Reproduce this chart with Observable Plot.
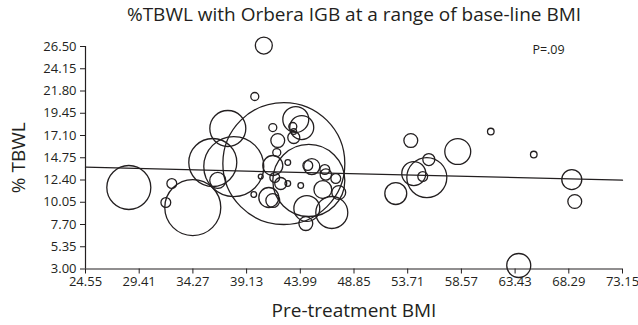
<!DOCTYPE html>
<html><head><meta charset="utf-8">
<script src="https://cdn.jsdelivr.net/npm/d3@7"></script>
<script src="https://cdn.jsdelivr.net/npm/@observablehq/plot@0.6"></script>
<style>body{margin:0;background:#fff;}</style>
</head><body><div id="chart"></div>
<script>
// Per-study data: baseline BMI, %TBWL, study size (bubble area)
const bmi = [28.47,32.36,31.82,34.26,37.43,36.07,37.97,36.52,39.87,40.69,
  42.50,44.76,43.58,44.12,43.31,43.40,43.40,41.50,41.95,41.86,
  42.86,41.50,40.41,41.68,39.78,41.14,41.50,42.86,44.03,45.03,
  44.67,46.21,46.30,47.20,46.03,47.47,44.58,46.84,44.49,42.22,
  52.63,53.99,58.24,61.23,65.12,55.62,54.26,55.44,55.07,68.56,
  68.83,63.76];
const tbwl = [11.61,12.03,10.02,9.49,17.84,14.25,13.82,12.35,21.22,26.60,
  14.14,12.35,18.79,17.94,18.05,17.52,16.89,17.94,16.57,15.30,
  14.25,13.93,12.77,12.66,10.87,10.55,10.23,12.03,11.82,13.82,
  13.93,13.51,12.98,12.56,11.39,11.08,9.39,8.97,7.80,12.03,
  10.97,16.57,15.41,17.52,15.09,14.56,13.08,12.66,12.77,12.45,
  10.13,3.37];
const patients = [121,6,6,196,81,144,225,16,4,18,
  930,324,42,36,4,2,9,4,12,4,
  2,25,1.5,6,2,25,12,2,2,16,
  6,6,8,6,20,12,42,64,12,9,
  30,12,42,2.7,2.7,9,36,100,6,25,
  12,36];
const xTicks = [24.55,29.41,34.27,39.13,43.99,48.85,53.71,58.57,63.43,68.29,73.15];
const yTicks = [3.00,5.35,7.70,10.05,12.40,14.75,17.10,19.45,21.80,24.15,26.50];
const fitBmi = [24.55,73.15];
const fitTbwl = [13.75,12.38];
const title = "%TBWL with Orbera IGB at a range of base-line BMI";
const xLabel = "Pre-treatment BMI";
const yLabel = "% TBWL";
const pLabel = "P=.09";

const data = bmi.map((x,i)=>({bmi:x,tbwl:tbwl[i],n:patients[i]}));
const fit = fitBmi.map((x,i)=>({bmi:x,tbwl:fitTbwl[i]}));
const ink = "#231f20";
const fmt = d3.format(".2f");
const font = "'Open Sans', sans-serif";

const plot = Plot.plot({
  width:638, height:325,
  marginLeft:85, marginRight:16, marginTop:46, marginBottom:56.5,
  x:{domain:[24.55,73.15]},
  y:{domain:[3,26.5]},
  r:{type:"sqrt", domain:[0,1000], range:[0,2*Math.sqrt(1000)]},
  style:{fontFamily:font, fontSize:"13px", color:ink, background:"#fff"},
  marks:[
    Plot.axisX({ticks:xTicks, tickFormat:fmt, tickSize:5, tickPadding:3, label:null, fontSize:13, stroke:ink}),
    Plot.axisY({ticks:yTicks, tickFormat:fmt, tickSize:5, tickPadding:4, label:null, fontSize:13, stroke:ink}),
    Plot.ruleY([3],{stroke:ink, strokeWidth:1.2}),
    Plot.ruleX([24.55],{stroke:ink, strokeWidth:1.2}),
    Plot.dot(data,{x:"bmi", y:"tbwl", r:"n", stroke:ink, strokeWidth:1.3, fill:"none"}),
    Plot.line(fit,{x:"bmi", y:"tbwl", stroke:ink, strokeWidth:1.3}),
    Plot.text([title],{frameAnchor:"top", lineAnchor:"middle", dy:-32, fontSize:19, fill:ink}),
    Plot.text([xLabel],{frameAnchor:"bottom", lineAnchor:"middle", dy:42, fontSize:19, fill:ink}),
    Plot.text([yLabel],{frameAnchor:"left", textAnchor:"middle", lineAnchor:"middle", dx:-67, rotate:-90, fontSize:19, fill:ink}),
    Plot.text([pLabel],{frameAnchor:"top-right", textAnchor:"middle", lineAnchor:"middle", dx:-74, dy:3, fontSize:12.5, fill:ink})
  ]
});
document.getElementById("chart").appendChild(plot);
</script>
</body></html>
